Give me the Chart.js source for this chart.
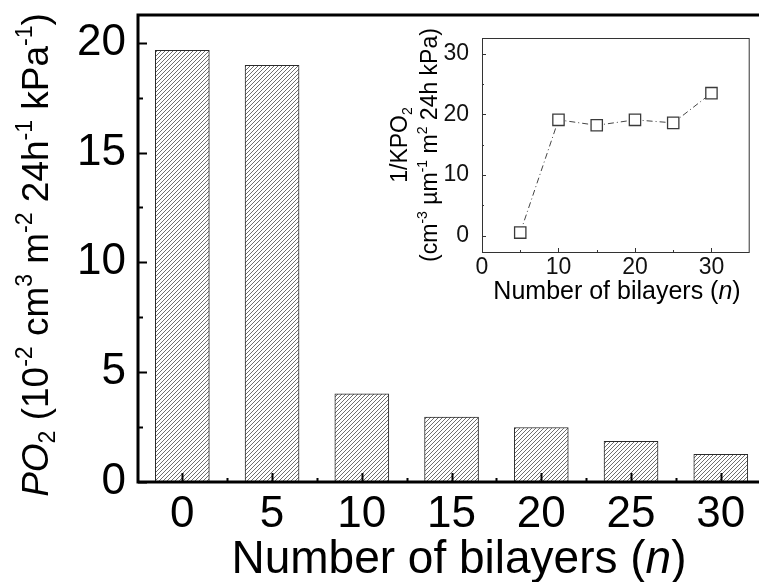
<!DOCTYPE html>
<html>
<head>
<meta charset="utf-8">
<script src="https://cdn.jsdelivr.net/npm/chart.js@4.4.1/dist/chart.umd.min.js"></script>
<style>
  body { margin: 0; background: #fff; }
  #wrap { position: relative; width: 759px; height: 582px; overflow: hidden; }
  #mainChart { position: absolute; left: 0; top: 0; }
  #insetChart { position: absolute; left: 370px; top: 20px; }
</style>
</head>
<body>
<div id="wrap">
  <canvas id="mainChart" width="759" height="582"></canvas>
  <canvas id="insetChart" width="389" height="310"></canvas>
</div>
<script>
// ---- data ----
const bilayers = [0, 5, 10, 15, 20, 25, 30];
const po2 = [19.65, 18.97, 4.01, 2.95, 2.48, 1.85, 1.26];

const insetBilayers = [5, 10, 15, 20, 25, 30];
const invKPO2 = [0.5, 19.1, 18.2, 19.1, 18.6, 23.5];

const FONT = "'Liberation Sans', Arial, sans-serif";

// axis titles, split into pieces for sub/superscripts
const mainYTitle = [
  { t: 'PO', it: true }, { t: '2', sub: true }, { t: ' (10' }, { t: '-2', sup: true },
  { t: ' cm' }, { t: '3', sup: true }, { t: ' m' }, { t: '-2', sup: true },
  { t: ' 24h' }, { t: '-1', sup: true }, { t: ' kPa' }, { t: '-1', sup: true }, { t: ')' }
];
const xTitle = [{ t: 'Number of bilayers (' }, { t: 'n', it: true }, { t: ')' }];
const insetYTitle1 = [{ t: '1/KPO' }, { t: '2', sub: true }];
const insetYTitle2 = [
  { t: '(cm' }, { t: '-3', sup: true }, { t: ' \u00B5m' }, { t: '-1', sup: true },
  { t: ' m' }, { t: '2', sup: true }, { t: ' 24h kPa)' }
];

// ---- helpers ----
function drawRich(ctx, parts, x, y, size, angle) {
  ctx.save();
  ctx.translate(x, y);
  ctx.rotate(angle);
  const fontOf = p => (p.it ? 'italic ' : '') + Math.round((p.sub || p.sup) ? size * 0.62 : size) + 'px ' + FONT;
  let total = 0;
  parts.forEach(p => { ctx.font = fontOf(p); total += ctx.measureText(p.t).width; });
  let cx = -total / 2;
  ctx.textAlign = 'left';
  ctx.textBaseline = 'alphabetic';
  ctx.fillStyle = '#000';
  parts.forEach(p => {
    ctx.font = fontOf(p);
    const dy = p.sub ? size * 0.2 : (p.sup ? -size * 0.42 : 0);
    ctx.fillText(p.t, cx, dy);
    cx += ctx.measureText(p.t).width;
  });
  ctx.restore();
}

function hatchPattern() {
  const c = document.createElement('canvas');
  c.width = 4; c.height = 4;
  const g = c.getContext('2d');
  g.fillStyle = '#fff';
  g.fillRect(0, 0, 4, 4);
  g.strokeStyle = '#4a4a4a';
  g.lineWidth = 0.8;
  g.beginPath();
  g.moveTo(-1, 5); g.lineTo(5, -1);
  g.moveTo(-1, 1); g.lineTo(1, -1);
  g.moveTo(3, 5); g.lineTo(5, 3);
  g.stroke();
  return g.createPattern(c, 'repeat');
}

function noPad(s) {
  s.paddingTop = 0; s.paddingBottom = 0; s.paddingLeft = 0; s.paddingRight = 0;
}

// ---- main chart: axes frame, inward ticks, titles ----
const mainDecor = {
  id: 'mainDecor',
  afterDatasetsDraw(chart) {
    const { ctx, chartArea: a, scales: { x, y } } = chart;
    ctx.save();
    ctx.strokeStyle = '#000';
    ctx.lineWidth = 2;
    ctx.beginPath();
    for (let v = 0; v <= 21; v += 2.5) {
      const py = Math.round(y.getPixelForValue(v)) + 0.5;
      const len = v % 5 === 0 ? 9 : 5;
      ctx.moveTo(a.left, py); ctx.lineTo(a.left + len, py);
    }
    for (let v = 0; v <= 31; v += 2.5) {
      const px = Math.round(x.getPixelForValue(v)) + 0.5;
      const len = v % 5 === 0 ? 9 : 4;
      ctx.moveTo(px, a.bottom); ctx.lineTo(px, a.bottom - len);
    }
    ctx.stroke();
    ctx.lineWidth = 3;
    ctx.beginPath();
    ctx.moveTo(a.right + 2, a.top);
    ctx.lineTo(a.left, a.top);
    ctx.lineTo(a.left, a.bottom);
    ctx.lineTo(a.right + 2, a.bottom);
    ctx.stroke();
    ctx.restore();

    drawRich(ctx, mainYTitle, 48, 255, 37, -Math.PI / 2);
    drawRich(ctx, xTitle, 459, 573, 46, 0);
  }
};

new Chart(document.getElementById('mainChart'), {
  type: 'bar',
  data: {
    datasets: [{
      data: bilayers.map((n, i) => ({ x: n, y: po2[i] })),
      backgroundColor: hatchPattern(),
      borderColor: '#2a2a2a',
      borderWidth: 1,
      barThickness: 54
    }]
  },
  options: {
    responsive: false,
    animation: false,
    layout: { padding: { top: 15, right: 0, left: 0, bottom: 0 } },
    plugins: { legend: { display: false }, tooltip: { enabled: false } },
    scales: {
      x: {
        type: 'linear',
        offset: false,
        min: -2.47,
        max: 32.13,
        grid: { display: false },
        border: { display: false },
        ticks: { stepSize: 5, includeBounds: false, padding: -2, color: '#000', font: { family: FONT, size: 44 } },
        afterFit: s => { s.height = 100; noPad(s); }
      },
      y: {
        min: 0,
        max: 21.26,
        grid: { display: false },
        border: { display: false },
        ticks: { stepSize: 5, includeBounds: false, padding: 4, color: '#000', font: { family: FONT, size: 44 } },
        afterFit: s => { s.width = 138; noPad(s); }
      }
    }
  },
  plugins: [mainDecor]
});

// ---- inset chart ----
const insetDecor = {
  id: 'insetDecor',
  afterDatasetsDraw(chart) {
    const { ctx, chartArea: a, scales: { x, y } } = chart;
    ctx.save();
    ctx.strokeStyle = '#333';
    ctx.lineWidth = 1;
    ctx.beginPath();
    for (let v = 0; v <= 30; v += 5) {
      const py = Math.round(y.getPixelForValue(v)) + 0.5;
      const len = v % 10 === 0 ? 4 : 2;
      ctx.moveTo(a.left, py); ctx.lineTo(a.left + len, py);
    }
    for (let v = 5; v <= 30; v += 5) {
      const px = Math.round(x.getPixelForValue(v)) + 0.5;
      const len = v % 10 === 0 ? 4 : 2;
      ctx.moveTo(px, a.bottom); ctx.lineTo(px, a.bottom - len);
    }
    ctx.stroke();
    ctx.strokeRect(a.left + 0.5, a.top + 0.5, a.right - a.left - 1, a.bottom - a.top);
    ctx.restore();

    drawRich(ctx, insetYTitle1, 37, 125, 23, -Math.PI / 2);
    drawRich(ctx, insetYTitle2, 67, 125, 23, -Math.PI / 2);
    drawRich(ctx, xTitle, 247, 279, 25, 0);
  }
};

new Chart(document.getElementById('insetChart'), {
  type: 'line',
  data: {
    datasets: [{
      data: insetBilayers.map((n, i) => ({ x: n, y: invKPO2[i] })),
      borderColor: '#444',
      borderWidth: 1,
      borderDash: [6, 3, 1, 3],
      pointStyle: 'rect',
      pointRadius: 8,
      pointBorderWidth: 1.3,
      pointBorderColor: '#3a3a3a',
      pointBackgroundColor: '#fff',
      fill: false,
      tension: 0
    }]
  },
  options: {
    responsive: false,
    animation: false,
    layout: { padding: { top: 18, right: 7, left: 0, bottom: 0 } },
    plugins: { legend: { display: false }, tooltip: { enabled: false } },
    scales: {
      x: {
        type: 'linear',
        min: 0,
        max: 35,
        grid: { display: false },
        border: { display: false },
        ticks: { stepSize: 10, includeBounds: false, padding: -6, color: '#111', font: { family: FONT, size: 23 } },
        afterFit: s => { s.height = 78; noPad(s); }
      },
      y: {
        min: -2.7,
        max: 32.6,
        grid: { display: false },
        border: { display: false },
        ticks: { stepSize: 10, includeBounds: false, padding: 5, color: '#111', font: { family: FONT, size: 23 } },
        afterFit: s => { s.width = 112; noPad(s); }
      }
    }
  },
  plugins: [insetDecor]
});
</script>
</body>
</html>
